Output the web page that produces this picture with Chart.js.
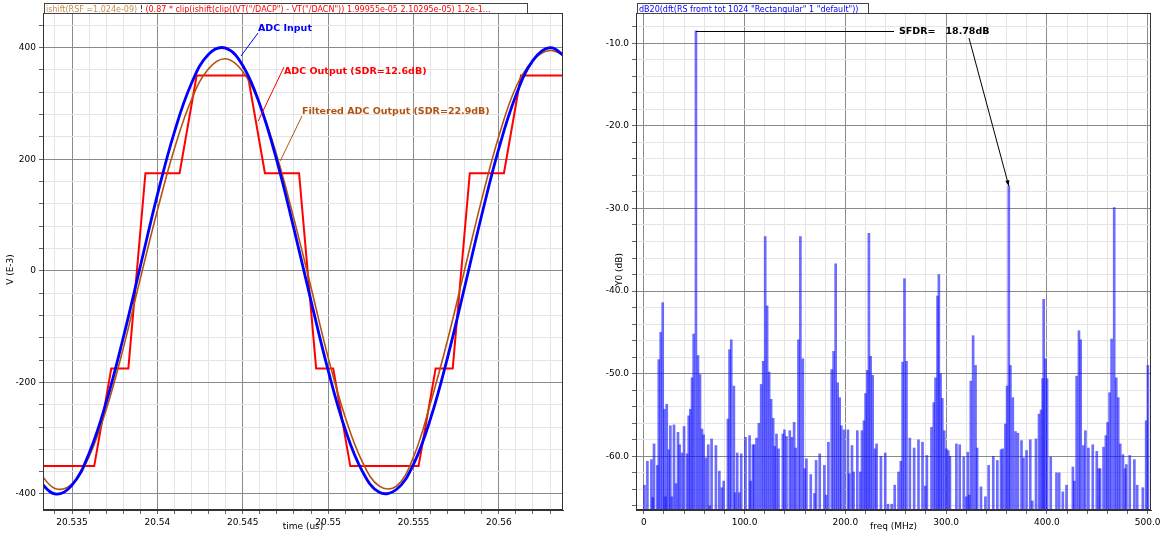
<!DOCTYPE html>
<html>
<head>
<meta charset="utf-8">
<title>ADC output and spectrum</title>
<script src="https://cdn.jsdelivr.net/npm/chart.js"></script>
<style>
  html, body { margin: 0; padding: 0; background: #fff; }
  #wrap { position: relative; width: 1163px; height: 533px; overflow: hidden; }
  #timeBox { position: absolute; left: 0; top: 0; }
  #fftBox { position: absolute; left: 580px; top: 0; }
</style>
</head>
<body>
<div id="wrap">
  <div id="timeBox"><canvas id="timeChart" width="575" height="533"></canvas></div>
  <div id="fftBox"><canvas id="fftChart" width="583" height="533"></canvas></div>
</div>
<script>
// ---- time domain (us, mV) ----
const inputTime = [20.533, 20.534, 20.535, 20.536, 20.537, 20.538, 20.539, 20.540,
  20.541, 20.542, 20.543, 20.544, 20.545, 20.546, 20.547, 20.548, 20.549, 20.550,
  20.551, 20.552, 20.553, 20.554, 20.555, 20.556, 20.557, 20.558, 20.559, 20.560,
  20.561, 20.562, 20.563, 20.564];
const adcInput = [-374, -400, -384, -327, -236, -120, 8, 136, 249, 336, 388, 399,
  368, 298, 197, 75, -54, -178, -284, -359, -397, -392, -347, -265, -155, -29,
  100, 219, 314, 377, 400, 381];
const filteredOut = [-358, -390, -382, -333, -249, -139, -14, 108, 219, 307, 362,
  380, 357, 297, 206, 93, -30, -155, -262, -342, -386, -386, -334, -237, -124, 2,
  128, 241, 329, 377, 395, 382];

// ADC samples, 1 ns apart, joined by straight lines
const sampleTime = [20.5323, 20.5333, 20.5343, 20.5353, 20.5363, 20.5373, 20.5383,
  20.5393, 20.5403, 20.5413, 20.5423, 20.5433, 20.5443, 20.5453, 20.5463, 20.5473,
  20.5483, 20.5493, 20.5503, 20.5513, 20.5523, 20.5533, 20.5543, 20.5553, 20.5563,
  20.5573, 20.5583, 20.5593, 20.5603, 20.5613, 20.5623, 20.5633, 20.5643];
const adcCodes = [-350, -350, -350, -350, -350, -175, -175, 175, 175, 175, 350, 350,
  350, 350, 175, 175, 175, -175, -175, -350, -350, -350, -350, -350, -175, -175,
  175, 175, 175, 350, 350, 350, 350];

const timeTicks = [20.535, 20.54, 20.545, 20.55, 20.555, 20.56];
const timeTickLabels = ['20.535', '20.54', '20.545', '20.55', '20.555', '20.56'];
const voltTicks = [-400, -200, 0, 200, 400];
const voltTickLabels = ['-400', '-200', '0', '200', '400'];

// ---- spectrum (MHz, dB) ----
const fftFreq = [0.7, 3.6, 7.6, 8.9, 10.2, 13.5, 14.9, 16.8, 18.8, 20.5, 21.6, 22.8,
  24.8, 26.4, 27.8, 30.0, 32.0, 34.0, 35.6, 38.0, 40.0, 43.0, 44.6, 46.2, 47.9, 49.5,
  51.8, 53.8, 55.8, 57.8, 59.4, 61.7, 64.0, 65.5, 67.3, 71.6, 75.0, 77.5, 79.3, 83.5,
  85.1, 86.8, 89.4, 90.6, 92.7, 94.8, 96.7, 101.0, 105.0, 106.0, 108.3, 109.6, 111.9,
  114.2, 116.5, 118.5, 120.5, 122.4, 124.4, 126.4, 128.4, 130.0, 131.7, 133.7, 138.0,
  139.6, 141.6, 144.9, 146.9, 149.2, 150.8, 153.5, 155.4, 157.8, 159.7, 161.4, 165.7,
  169.4, 171.0, 174.6, 179.2, 181.0, 183.2, 186.5, 188.4, 190.4, 192.4, 194.4, 196.0,
  198.7, 202.6, 204.0, 206.6, 208.2, 211.9, 214.9, 216.5, 218.5, 220.1, 221.8, 223.4,
  225.1, 227.1, 229.4, 231.0, 235.3, 239.6, 242.4, 246.0, 249.0, 252.8, 255.1, 256.8,
  258.7, 260.7, 264.0, 268.3, 272.6, 276.6, 279.3, 280.9, 285.5, 287.8, 289.5, 291.5,
  292.8, 294.5, 296.2, 298.2, 300.2, 302.2, 303.8, 310.2, 313.5, 317.5, 320.0, 321.5,
  323.0, 324.5, 326.8, 329.2, 330.8, 334.6, 339.0, 342.2, 346.8, 350.8, 354.5, 356.2,
  358.8, 360.5, 362.2, 363.8, 366.2, 368.8, 371.2, 374.8, 376.8, 379.8, 383.5, 385.5,
  389.2, 392.2, 394.2, 395.8, 396.8, 398.5, 400.2, 403.8, 409.5, 412.2, 415.8, 419.5,
  425.8, 427.2, 429.5, 431.8, 433.5, 436.2, 438.2, 441.2, 445.5, 449.5, 451.5, 452.8,
  456.2, 458.5, 460.2, 462.2, 464.2, 466.8, 468.8, 470.8, 472.8, 475.5, 477.5, 478.8,
  482.2, 486.8, 489.6, 495.2, 498.5, 500.2];
const fftDb = [-63.5, -60.6, -60.4, -65.0, -58.5, -61.1, -48.3, -45.0, -41.4, -54.3,
  -64.9, -53.7, -59.2, -56.3, -64.9, -56.2, -63.3, -57.1, -58.6, -59.6, -56.4, -59.7,
  -55.1, -54.3, -50.5, -45.2, -8.5, -47.8, -50.1, -56.7, -57.4, -60.2, -58.6, -66.0,
  -57.9, -58.7, -61.8, -63.8, -63.0, -55.5, -47.1, -45.9, -51.5, -64.4, -59.6, -64.4,
  -59.7, -57.7, -57.5, -63.0, -58.6, -58.6, -57.8, -56.0, -51.3, -48.5, -33.4, -41.8,
  -49.8, -53.1, -55.4, -58.8, -57.3, -59.1, -57.3, -56.8, -57.6, -56.9, -57.7, -55.9,
  -59.0, -45.9, -33.4, -48.2, -61.5, -60.3, -62.2, -64.5, -60.5, -59.7, -61.1, -64.7,
  -58.3, -49.5, -47.3, -36.7, -51.1, -52.9, -56.3, -56.8, -56.8, -62.1, -58.7, -61.9,
  -56.9, -61.9, -56.9, -55.7, -52.4, -49.6, -33.0, -47.9, -50.2, -59.1, -58.5, -60.0,
  -59.6, -65.8, -65.8, -63.5, -61.9, -60.6, -48.6, -38.5, -48.5, -57.8, -59.0, -58.0,
  -58.3, -63.6, -59.9, -56.5, -53.5, -50.5, -40.6, -38.0, -50.0, -53.0, -56.9, -59.1,
  -59.3, -60.0, -58.5, -58.6, -60.1, -64.9, -59.5, -64.7, -50.9, -45.4, -49.0, -59.0,
  -63.7, -64.9, -61.1, -60.0, -60.5, -59.2, -59.1, -56.1, -51.5, -27.28, -49.0, -52.9,
  -57.0, -57.2, -58.1, -60.2, -59.3, -58.0, -65.4, -57.9, -54.9, -54.4, -50.6, -41.0,
  -48.2, -50.6, -60.1, -62.0, -62.0, -64.3, -63.5, -61.3, -63.0, -50.3, -44.8, -45.9,
  -58.7, -56.9, -59.0, -58.6, -59.4, -61.5, -61.5, -58.9, -57.5, -55.9, -52.3, -45.8,
  -29.9, -50.5, -52.9, -58.5, -59.8, -61.5, -61.0, -59.9, -60.4, -63.5, -63.8, -55.7,
  -49.0];

const freqTicks = [0, 100, 200, 300, 400, 500];
const freqTickLabels = ['0', '100.0', '200.0', '300.0', '400.0', '500.0'];
const dbTicks = [-60, -50, -40, -30, -20, -10];
const dbTickLabels = ['-60.0', '-50.0', '-40.0', '-30.0', '-20.0', '-10.0'];

const FONT = '"DejaVu Sans", sans-serif';

// major + minor grid positions for an axis
function gridTicks(min, max, step, majors) {
  const out = [];
  let v = majors[0] - step * Math.floor((majors[0] - min) / step);
  for (; v <= max + 1e-9; v += step) {
    const major = majors.findIndex(m => Math.abs(m - v) < step * 0.01);
    out.push({ value: v, isMajor: major >= 0, majorIndex: major });
  }
  return out;
}

function axis(min, max, step, majors, labels, extra) {
  return Object.assign({
    type: 'linear',
    min: min,
    max: max,
    offset: false,
    afterBuildTicks: s => { s.ticks = gridTicks(min, max, step, majors); },
    ticks: {
      autoSkip: false,
      maxRotation: 0,
      color: '#000',
      font: { family: FONT, size: 9 },
      callback: (v, i, ticks) => ticks[i].isMajor ? labels[ticks[i].majorIndex] : ''
    },
    grid: {
      offset: false,
      color: c => (c.tick && c.tick.isMajor) ? '#8a8a8a' : '#e4e4e4',
      tickColor: '#666',
      tickLength: 4
    },
    border: { display: true, color: '#333' }
  }, extra);
}

function fixSize(prop, size) {
  return s => {
    s[prop] = size;
    s.paddingLeft = 0; s.paddingRight = 0; s.paddingTop = 0; s.paddingBottom = 0;
  };
}

function frame(chart) {
  const { ctx, chartArea: a } = chart;
  ctx.save();
  ctx.strokeStyle = '#333';
  ctx.lineWidth = 1;
  ctx.strokeRect(Math.round(a.left) + 0.5, Math.round(a.top) + 0.5,
    Math.round(a.right - a.left) - 1, Math.round(a.bottom - a.top) - 1);
  ctx.restore();
}

// tab sitting on the top edge of the plot with the expression text
function headerTab(ctx, x, right, parts) {
  ctx.save();
  ctx.fillStyle = '#fff';
  ctx.strokeStyle = '#444';
  ctx.lineWidth = 1;
  ctx.fillRect(x, 3, right - x, 10);
  ctx.strokeRect(x + 0.5, 3.5, right - x, 10);
  ctx.font = '8px ' + FONT;
  ctx.textBaseline = 'alphabetic';
  let cx = x + 2;
  parts.forEach(p => {
    ctx.fillStyle = p.color;
    ctx.fillText(p.text, cx, 11.5);
    cx += ctx.measureText(p.text).width;
  });
  ctx.restore();
}

function axisTitles(chart, xTitle, yTitle, yTitleX) {
  const { ctx, chartArea: a } = chart;
  ctx.save();
  ctx.fillStyle = '#000';
  ctx.font = '9px ' + FONT;
  ctx.textAlign = 'center';
  ctx.textBaseline = 'middle';
  ctx.fillText(xTitle, (a.left + a.right) / 2, 527);
  ctx.translate(yTitleX, (a.top + a.bottom) / 2 + 8);
  ctx.rotate(-Math.PI / 2);
  ctx.fillText(yTitle, 0, 0);
  ctx.restore();
}

// labels with leader lines pointing at the traces
const timeNotes = {
  id: 'timeNotes',
  afterDatasetsDraw(chart) {
    const { ctx, scales: { x, y } } = chart;
    frame(chart);
    const notes = [
      { text: 'ADC Input', color: '#0000ff', lx: 258, ly: 29, from: [258, 33], to: [20.5449, 385] },
      { text: 'ADC Output (SDR=12.6dB)', color: '#ff0000', lx: 284, ly: 72, from: [284, 67], to: [20.5459, 268] },
      { text: 'Filtered ADC Output (SDR=22.9dB)', color: '#b4530f', lx: 302, ly: 112, from: [302, 116], to: [20.5472, 197] }
    ];
    ctx.save();
    notes.forEach(n => {
      ctx.strokeStyle = n.color;
      ctx.lineWidth = 1;
      ctx.beginPath();
      ctx.moveTo(n.from[0], n.from[1]);
      ctx.lineTo(x.getPixelForValue(n.to[0]), y.getPixelForValue(n.to[1]));
      ctx.stroke();
      ctx.fillStyle = n.color;
      ctx.font = 'bold 9.5px ' + FONT;
      ctx.textBaseline = 'middle';
      ctx.fillText(n.text, n.lx, n.ly);
    });
    ctx.restore();
    headerTab(ctx, 44, 527, [
      { text: 'ishift(RSF =1.024e-09)', color: '#c98a4a' },
      { text: ' ! ', color: '#000' },
      { text: '(0.87 * clip(ishift(clip((VT("/DACP") - VT("/DACN")) 1.99955e-05 2.10295e-05) 1.2e-1...', color: '#ff0000' }
    ]);
    axisTitles(chart, 'time (us)', 'V (E-3)', 11);
  }
};

new Chart(document.getElementById('timeChart'), {
  type: 'line',
  data: {
    datasets: [
      { label: 'ADC Input', data: inputTime.map((t, i) => ({ x: t, y: adcInput[i] })),
        borderColor: '#0000ff', borderWidth: 2.8, tension: 0.4, pointRadius: 0 },
      { label: 'Filtered ADC Output', data: inputTime.map((t, i) => ({ x: t, y: filteredOut[i] })),
        borderColor: '#b4530f', borderWidth: 1.6, tension: 0.4, pointRadius: 0 },
      { label: 'ADC Output', data: sampleTime.map((t, i) => ({ x: t, y: adcCodes[i] })),
        borderColor: '#ff0000', borderWidth: 2, tension: 0, pointRadius: 0 }
    ]
  },
  options: {
    responsive: false,
    animation: false,
    events: [],
    layout: { padding: { left: 0, right: 12, top: 13, bottom: 0 } },
    plugins: { legend: { display: false }, tooltip: { enabled: false } },
    scales: {
      x: axis(20.5333, 20.56376, 0.001, timeTicks, timeTickLabels, { afterFit: fixSize('height', 23) }),
      y: axis(-428.7, 462, 40, voltTicks, voltTickLabels, { afterFit: fixSize('width', 43) })
    }
  },
  plugins: [timeNotes]
});

// SFDR marker: fundamental vs. largest spur
const fftNotes = {
  id: 'fftNotes',
  afterDatasetsDraw(chart) {
    const { ctx, scales: { x, y } } = chart;
    frame(chart);
    const fi = fftDb.indexOf(Math.max(...fftDb));
    const rest = fftDb.filter((v, i) => i !== fi);
    const si = fftDb.indexOf(Math.max(...rest));
    const sfdr = (fftDb[fi] - fftDb[si]).toFixed(2);
    const fx = x.getPixelForValue(fftFreq[fi]);
    const fy = y.getPixelForValue(fftDb[fi]);
    const sx = x.getPixelForValue(fftFreq[si]);
    const sy = y.getPixelForValue(fftDb[si]);
    ctx.save();
    ctx.strokeStyle = '#000';
    ctx.lineWidth = 1;
    ctx.beginPath();
    ctx.moveTo(fx, Math.round(fy) + 0.5);
    ctx.lineTo(314, Math.round(fy) + 0.5);
    ctx.moveTo(389, 38);
    ctx.lineTo(sx, sy);
    ctx.stroke();
    // small arrow head at the spur
    const ang = Math.atan2(sy - 38, sx - 389);
    ctx.fillStyle = '#000';
    ctx.beginPath();
    ctx.moveTo(sx, sy);
    ctx.lineTo(sx - 6 * Math.cos(ang - 0.35), sy - 6 * Math.sin(ang - 0.35));
    ctx.lineTo(sx - 6 * Math.cos(ang + 0.35), sy - 6 * Math.sin(ang + 0.35));
    ctx.closePath();
    ctx.fill();
    ctx.font = 'bold 9.5px ' + FONT;
    ctx.textBaseline = 'middle';
    ctx.fillText('SFDR=   ' + sfdr + 'dB', 319, Math.round(fy) + 1);
    ctx.restore();
    headerTab(ctx, 57, 288, [
      { text: 'dB20(dft(RS fromt tot 1024 "Rectangular" 1 "default"))', color: '#0000ff' }
    ]);
    axisTitles(chart, 'freq (MHz)', 'Y0 (dB)', 40);
  }
};

new Chart(document.getElementById('fftChart'), {
  type: 'bar',
  data: {
    datasets: [{
      label: 'dB20(dft)',
      data: fftFreq.map((f, i) => ({ x: f, y: fftDb[i] })),
      base: -66.5,
      barThickness: 2,
      backgroundColor: 'rgba(20,20,255,0.62)',
      borderWidth: 0,
      clip: 0
    }]
  },
  options: {
    responsive: false,
    animation: false,
    events: [],
    layout: { padding: { left: 0, right: 12, top: 13, bottom: 0 } },
    plugins: { legend: { display: false }, tooltip: { enabled: false } },
    scales: {
      x: axis(-7.7, 503.3, 20, freqTicks, freqTickLabels, { afterFit: fixSize('height', 23) }),
      y: axis(-66.5, -6.34, 2, dbTicks, dbTickLabels, { afterFit: fixSize('width', 56) })
    }
  },
  plugins: [fftNotes]
});
</script>
</body>
</html>
